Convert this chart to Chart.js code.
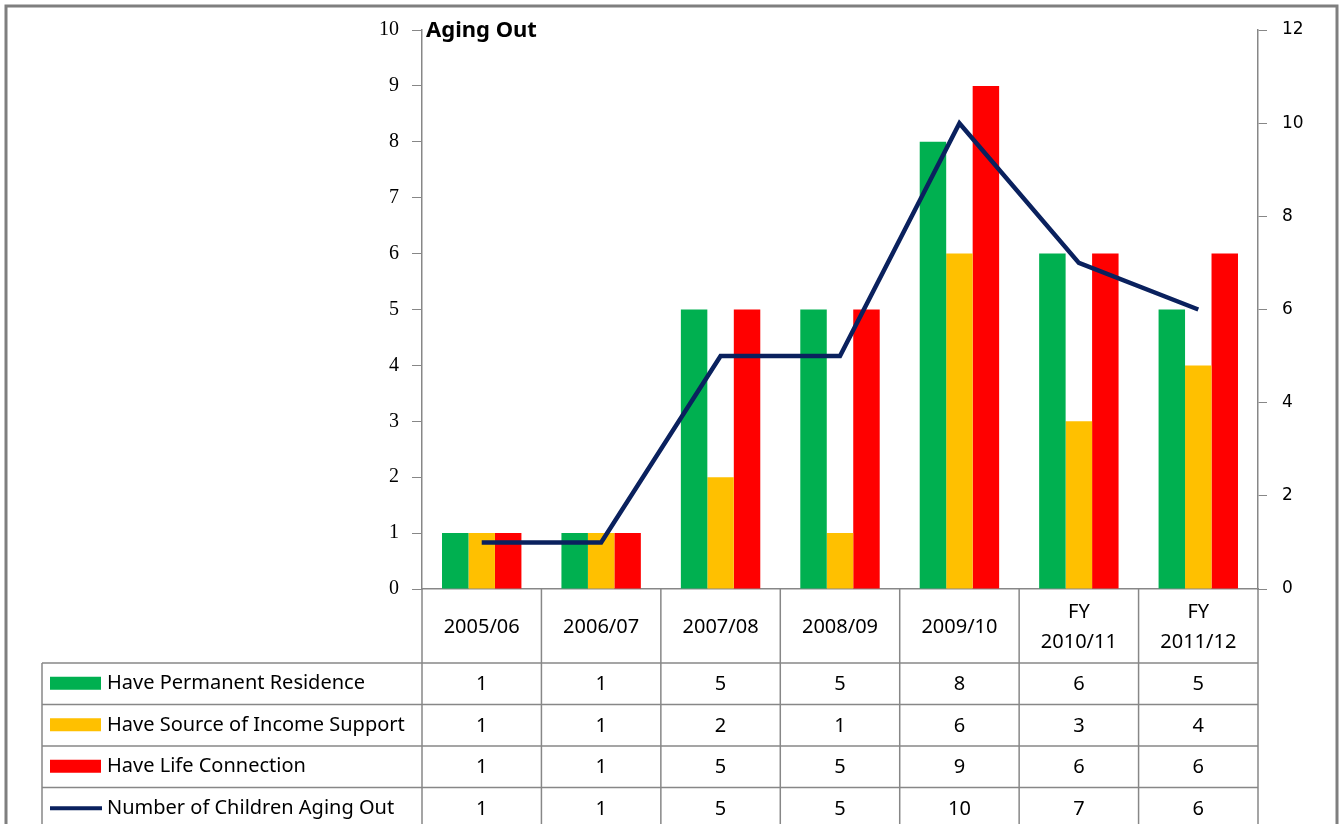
<!DOCTYPE html>
<html>
<head>
<meta charset="utf-8">
<script src="https://cdn.jsdelivr.net/npm/chart.js@4.4.1/dist/chart.umd.min.js"></script>
<style>
  html, body { margin: 0; padding: 0; background: #fff; }
  canvas { display: block; }
</style>
</head>
<body>
<canvas id="agingChart" width="1343" height="824"></canvas>
<script>
const categories = [['2005/06'], ['2006/07'], ['2007/08'], ['2008/09'], ['2009/10'], ['FY', '2010/11'], ['FY', '2011/12']];
const permanentResidence = [1, 1, 5, 5, 8, 6, 5];
const incomeSupport = [1, 1, 2, 1, 6, 3, 4];
const lifeConnection = [1, 1, 5, 5, 9, 6, 6];
const childrenAgingOut = [1, 1, 5, 5, 10, 7, 6];
const leftTicks = [0, 1, 2, 3, 4, 5, 6, 7, 8, 9, 10];
const rightTicks = [0, 2, 4, 6, 8, 10, 12];

const GRAY = '#878787';
const NAVY = '#0a215e';

// rows of the data table under the chart
const tableRows = [
    { label: 'Have Permanent Residence', color: '#00b050', values: permanentResidence, kind: 'box' },
    { label: 'Have Source of Income Support', color: '#ffc000', values: incomeSupport, kind: 'box' },
    { label: 'Have Life Connection', color: '#ff0000', values: lifeConnection, kind: 'box' },
    { label: 'Number of Children Aging Out', color: NAVY, values: childrenAgingOut, kind: 'line' }
];

const tablePlugin = {
    id: 'dataTable',
    afterDraw(chart) {
        const ctx = chart.ctx;
        const area = chart.chartArea;
        const xs = chart.scales.x;
        const n = categories.length;

        const bounds = [];
        for (let i = 0; i <= n; i++) {
            if (i === 0) bounds.push(area.left);
            else if (i === n) bounds.push(area.right);
            else bounds.push((xs.getPixelForValue(i - 1) + xs.getPixelForValue(i)) / 2);
        }

        const tableLeft = 42;
        const headerBottom = 663;
        const rowH = 41.5;

        ctx.save();
        ctx.strokeStyle = GRAY;
        ctx.lineWidth = 1.5;

        // vertical lines
        bounds.forEach(x => {
            ctx.beginPath();
            ctx.moveTo(x, area.bottom);
            ctx.lineTo(x, 830);
            ctx.stroke();
        });
        ctx.beginPath();
        ctx.moveTo(tableLeft, headerBottom);
        ctx.lineTo(tableLeft, 830);
        ctx.stroke();

        // horizontal lines
        for (let r = 0; r < tableRows.length; r++) {
            const y = headerBottom + r * rowH;
            ctx.beginPath();
            ctx.moveTo(tableLeft, y);
            ctx.lineTo(area.right, y);
            ctx.stroke();
        }

        // row contents
        ctx.textBaseline = 'middle';
        tableRows.forEach((row, r) => {
            const cy = headerBottom + r * rowH + rowH / 2;
            if (row.kind === 'box') {
                ctx.fillStyle = row.color;
                ctx.fillRect(50, cy - 7, 51, 13);
            } else {
                ctx.strokeStyle = row.color;
                ctx.lineWidth = 4;
                ctx.beginPath();
                ctx.moveTo(50, cy);
                ctx.lineTo(102, cy);
                ctx.stroke();
            }
            ctx.fillStyle = '#000';
            ctx.font = '20px "Noto Sans", sans-serif';
            ctx.textAlign = 'left';
            ctx.fillText(row.label, 107, cy);

            ctx.font = '20px "Noto Sans", sans-serif';
            ctx.textAlign = 'center';
            row.values.forEach((v, i) => {
                ctx.fillText(String(v), xs.getPixelForValue(i), cy + 1);
            });
        });

        // outer frame
        ctx.strokeStyle = '#7f7f7f';
        ctx.lineWidth = 3;
        ctx.strokeRect(6, 6, 1331, 830);

        // title
        ctx.fillStyle = '#000';
        ctx.font = 'bold 22px "Noto Sans", sans-serif';
        ctx.textAlign = 'left';
        ctx.fillText('Aging Out', 426, 31);
        ctx.restore();
    }
};

const ctx = document.getElementById('agingChart').getContext('2d');
const agingChart = new Chart(ctx, {
    type: 'bar',
    data: {
        labels: categories,
        datasets: [{
            type: 'line',
            label: 'Number of Children Aging Out',
            data: childrenAgingOut,
            yAxisID: 'y2',
            borderColor: NAVY,
            borderWidth: 4.5,
            pointRadius: 0,
            tension: 0,
            order: 0
        }, {
            label: 'Have Permanent Residence',
            data: permanentResidence,
            backgroundColor: '#00b050',
            yAxisID: 'y',
            order: 1
        }, {
            label: 'Have Source of Income Support',
            data: incomeSupport,
            backgroundColor: '#ffc000',
            yAxisID: 'y',
            order: 1
        }, {
            label: 'Have Life Connection',
            data: lifeConnection,
            backgroundColor: '#ff0000',
            yAxisID: 'y',
            order: 1
        }]
    },
    options: {
        responsive: false,
        animation: false,
        devicePixelRatio: 1,
        categoryPercentage: 0.665,
        barPercentage: 1.0,
        layout: {
            padding: { top: 30, left: 0, right: 0, bottom: 0 }
        },
        scales: {
            x: {
                grid: { display: false },
                border: { display: true, color: GRAY, width: 1.5 },
                ticks: {
                    color: '#000',
                    font: { family: '"Noto Sans", sans-serif', size: 20, lineHeight: 1.5 },
                    padding: 15,
                    crossAlign: 'center',
                    maxRotation: 0,
                    autoSkip: false
                },
                afterFit: scale => { scale.height = 235; }
            },
            y: {
                position: 'left',
                min: 0,
                max: 10,
                afterBuildTicks: scale => { scale.ticks = leftTicks.map(v => ({ value: v })); },
                grid: { drawOnChartArea: false, drawTicks: true, tickLength: 10, color: GRAY },
                border: { display: true, color: GRAY, width: 1.5 },
                ticks: {
                    color: '#000',
                    font: { family: '"Liberation Serif", serif', size: 20 },
                    padding: 13
                },
                afterFit: scale => { scale.width = 422; }
            },
            y2: {
                position: 'right',
                min: 0,
                max: 12,
                afterBuildTicks: scale => { scale.ticks = rightTicks.map(v => ({ value: v })); },
                grid: { drawOnChartArea: false, drawTicks: true, tickLength: 9, color: GRAY },
                border: { display: true, color: GRAY, width: 1.5 },
                ticks: {
                    color: '#000',
                    font: { family: '"DejaVu Sans", sans-serif', size: 17 },
                    padding: 15
                },
                afterFit: scale => { scale.width = 85; }
            }
        },
        plugins: {
            legend: { display: false },
            title: { display: false },
            tooltip: { enabled: false }
        }
    },
    plugins: [tablePlugin]
});
</script>
</body>
</html>
